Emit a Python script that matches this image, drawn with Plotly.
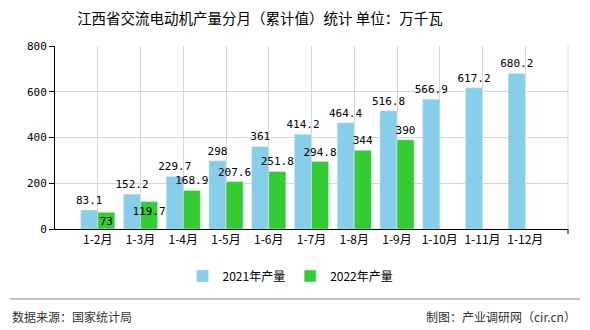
import plotly.graph_objects as go

categories = ["1-2月", "1-3月", "1-4月", "1-5月", "1-6月", "1-7月", "1-8月", "1-9月", "1-10月", "1-11月", "1-12月"]
values_2021 = [83.1, 152.2, 229.7, 298, 361, 414.2, 464.4, 516.8, 566.9, 617.2, 680.2]
values_2022 = [73, 119.7, 168.9, 207.6, 251.8, 294.8, 344, 390, None, None, None]
label_2021 = ["83.1", "152.2", "229.7", "298", "361", "414.2", "464.4", "516.8", "566.9", "617.2", "680.2"]
label_2022 = ["73", "119.7", "168.9", "207.6", "251.8", "294.8", "344", "390", "", "", ""]
pos_2022 = ["inside", "inside", "outside", "outside", "outside", "outside", "outside", "outside", "outside", "outside", "outside"]

CJK = "Noto Sans CJK SC"
NUM = "DejaVu Sans Mono"

fig = go.Figure()
fig.add_trace(go.Bar(
    name="2021年产量", x=categories, y=values_2021, marker_color="#87CEEB",
    text=label_2021, textposition="outside", textangle=0, constraintext="none",
    textfont=dict(family=NUM, size=11, color="#000"), cliponaxis=False,
))
fig.add_trace(go.Bar(
    name="2022年产量", x=categories, y=values_2022, marker_color="#33CC33",
    text=label_2022, textposition=pos_2022, textangle=0, constraintext="none",
    insidetextanchor="end",
    textfont=dict(family=NUM, size=11, color="#000"),
    insidetextfont=dict(family=NUM, size=11, color="#000"),
    outsidetextfont=dict(family=NUM, size=11, color="#000"),
    cliponaxis=False,
))

W, H = 590, 330
L, R, T, B = 55, 22, 46, 101
pw, ph = W - L - R, H - T - B

def px_x(x):
    return (x - L) / pw

def px_y(y):
    return (H - B - y) / ph

fig.update_layout(
    width=W, height=H,
    margin=dict(l=L, r=R, t=T, b=B),
    paper_bgcolor="white", plot_bgcolor="white",
    barmode="group", bargap=0.2, bargroupgap=0,
    font=dict(family=CJK, size=12, color="#000"),
    title=dict(text="江西省交流电动机产量分月（累计值）统计 单位：万千瓦",
               x=260 / W, xanchor="center", y=1 - 19 / H, yanchor="middle",
               font=dict(family=CJK, size=14.5, color="#000")),
    legend=dict(orientation="h", x=0.5 - (311 - 290) / pw, xanchor="center",
                y=px_y(276), yanchor="middle",
                font=dict(family=CJK, size=12, color="#000"),
                itemwidth=30, traceorder="normal"),
    xaxis=dict(type="category", range=[-1, 11], showgrid=True, gridcolor="#d6d6d6",
               showline=True, linecolor="#000", linewidth=1, ticks="",
               tickfont=dict(family=CJK, size=12, color="#000")),
    yaxis=dict(range=[0, 800], dtick=200, showgrid=True, gridcolor="#d6d6d6",
               showline=True, linecolor="#000", linewidth=1, ticks="outside",
               ticklen=5, tickcolor="#000", zeroline=False,
               tickfont=dict(family=NUM, size=11, color="#000")),
    shapes=[
        dict(type="line", xref="paper", yref="paper", x0=1, x1=1, y0=0, y1=1,
             line=dict(color="#d6d6d6", width=1)),
        dict(type="line", xref="paper", yref="paper", x0=1, x1=1, y0=0, y1=px_y(234),
             line=dict(color="#000", width=1)),
        dict(type="line", xref="paper", yref="paper", x0=px_x(10), x1=px_x(580),
             y0=px_y(299), y1=px_y(299), line=dict(color="#888", width=1)),
    ],
    annotations=[
        dict(text="数据来源：国家统计局", xref="paper", yref="paper", x=px_x(10), y=px_y(316),
             xanchor="left", yanchor="middle", showarrow=False,
             font=dict(family=CJK, size=12, color="#333")),
        dict(text="制图：产业调研网（cir.cn）", xref="paper", yref="paper", x=px_x(578), y=px_y(316),
             xanchor="right", yanchor="middle", showarrow=False,
             font=dict(family=CJK, size=12, color="#333")),
    ],
)

fig.write_html("out.html")
